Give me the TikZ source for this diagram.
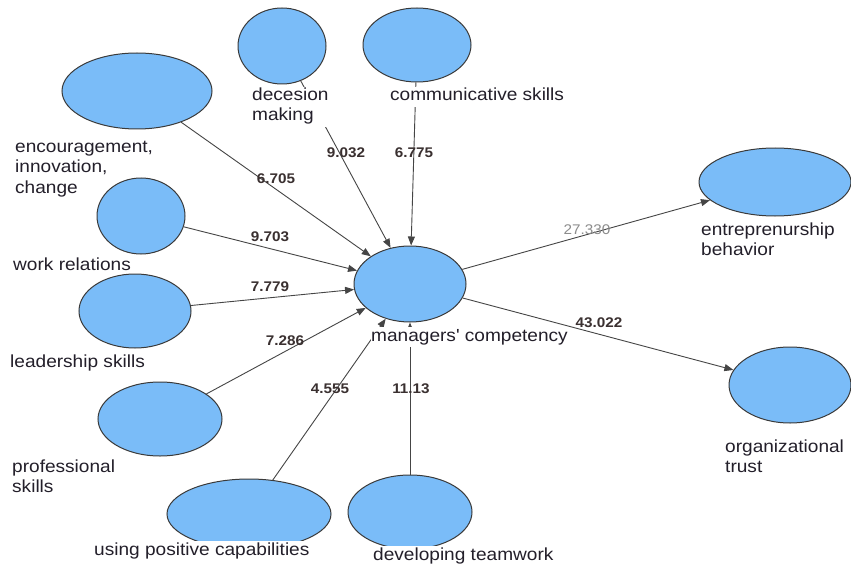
\documentclass[tikz,border=0pt]{standalone}
\usepackage{fontspec}
\setmainfont{Liberation Sans}
\usepackage{graphicx}
\usetikzlibrary{shapes.geometric,arrows.meta}
\definecolor{nodefill}{HTML}{7ABCF8}
\definecolor{nodeline}{HTML}{3A3A3A}
\definecolor{edgecol}{HTML}{454545}
\definecolor{txt}{HTML}{231F2A}
\definecolor{valcol}{HTML}{3A3030}
\newcommand{\wtxt}[1]{\scalebox{1.09}[1]{\begin{tabular}[t]{@{}l@{}}#1\end{tabular}}}
\newcommand{\wval}[1]{\scalebox{1.09}[1]{#1}}
\begin{document}
\begin{tikzpicture}[x=1pt,y=-1pt,
  lv/.style={ellipse,draw=nodeline,line width=1pt,fill=nodefill,inner sep=0pt},
  conn/.style={draw=edgecol,line width=0.9pt,-{Triangle[length=9pt,width=7pt]}},
  lbl/.style={anchor=base west,inner sep=0pt,text=txt,font=\fontsize{17.5}{20}\selectfont},
  cover/.style={fill=white},
  val/.style={inner sep=0pt,text=valcol,font=\fontsize{14}{16}\selectfont\bfseries}]
\useasboundingbox (0,0) rectangle (851,567);
\fill[white] (0,0) rectangle (851,567);
% latent variables
\node[lv,minimum width=88pt,minimum height=76pt] (dm) at (282,46) {};
\node[lv,minimum width=108pt,minimum height=74pt] (cs) at (417,45) {};
\node[lv,minimum width=150pt,minimum height=76pt] (enc) at (137,91) {};
\node[lv,minimum width=88pt,minimum height=76pt] (wr) at (141,216) {};
\node[lv,minimum width=112pt,minimum height=74pt] (ls) at (135,311) {};
\node[lv,minimum width=124pt,minimum height=74pt] (ps) at (160,419) {};
\node[lv,minimum width=164pt,minimum height=70pt] (up) at (249,514) {};
\node[lv,minimum width=124pt,minimum height=74pt] (dt) at (410,512) {};
\node[lv,minimum width=112pt,minimum height=76pt] (mc) at (410,284) {};
\node[lv,minimum width=152pt,minimum height=68pt] (eb) at (775,182) {};
\node[lv,minimum width=122pt,minimum height=76pt] (ot) at (790,385) {};
% connectors
\draw[conn] (enc) -- (mc);
\draw[conn] (dm) -- (mc);
\draw[conn] (cs) -- (mc);
\draw[conn] (wr) -- (mc);
\draw[conn] (ls) -- (mc);
\draw[conn] (ps) -- (mc);
\draw[conn] (up) -- (mc);
\draw[conn] (dt) -- (mc);
\draw[conn] (mc) -- (eb);
\draw[conn] (mc) -- (ot);
% path values
\node[val] (v1) at (276,179) {\wval{6.705}};
\node[val] (v2) at (346,153) {\wval{9.032}};
\node[val] (v3) at (414,153) {\wval{6.775}};
\node[val] (v4) at (270,237) {\wval{9.703}};
\node[val] (v5) at (270,287) {\wval{7.779}};
\node[val] (v6) at (285,341) {\wval{7.286}};
\node[val] (v7) at (330,389) {\wval{4.555}};
\node[val] (v8) at (411,389) {\wval{11.13}};
\node[inner sep=0pt,text=gray!90,font=\fontsize{14}{16}\selectfont] (v9) at (587,230) {\wval{27.330}};
\node[val] (v10) at (599,323) {\wval{43.022}};
% names
\node[lbl,cover] (tdm) at (252,101) {\wtxt{decesion\\making}};
\node[lbl,cover] (tcs) at (390,101) {\wtxt{communicative skills}};
\node[lbl] (tenc) at (15,153) {\wtxt{encouragement,\\innovation,\\change}};
\node[lbl] (twr) at (13,270) {\wtxt{work relations}};
\node[lbl] (tls) at (10,367) {\wtxt{leadership skills}};
\node[lbl] (tps) at (12,472) {\wtxt{professional\\skills}};
\node[lbl,cover] (tup) at (94,555) {\wtxt{using positive capabilities}};
\node[lbl,cover] (tdt) at (373,560) {\wtxt{developing teamwork}};
\node[lbl,cover] (tmc) at (371,341) {\wtxt{managers\textquotesingle{} competency}};
\node[lbl] (teb) at (701,235) {\wtxt{entreprenurship\\behavior}};
\node[lbl] (tot) at (725,452) {\wtxt{organizational\\trust}};
\end{tikzpicture}
\end{document}
